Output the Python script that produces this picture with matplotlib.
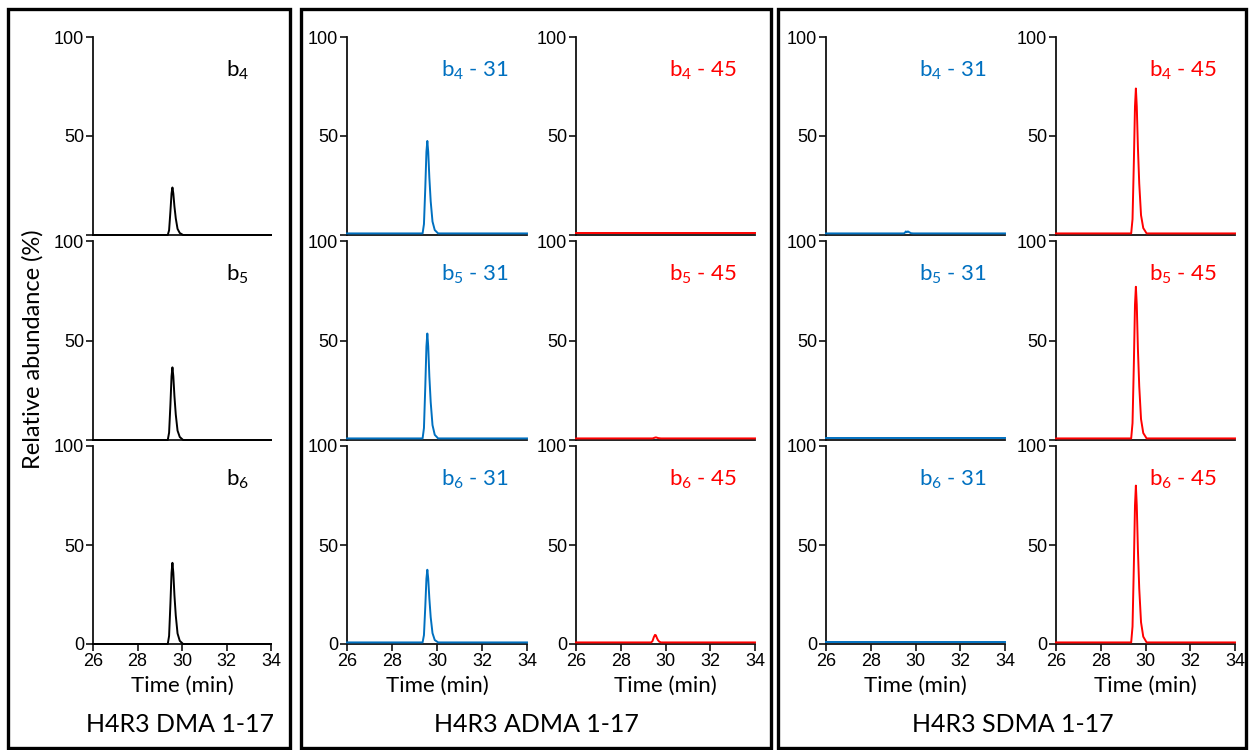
import matplotlib
matplotlib.use("Agg")
import matplotlib.pyplot as plt
from matplotlib.patches import Rectangle

plt.rcParams["mathtext.fontset"] = "custom"
plt.rcParams["mathtext.rm"] = "Lato"
plt.rcParams["mathtext.it"] = "Lato:italic"

# ---- data -------------------------------------------------------------
time_min = [26.0, 29.36, 29.42, 29.48, 29.53, 29.57, 29.61, 29.66, 29.72, 29.80, 29.90, 30.05, 34.0]

dma_b4 = [0, 0, 2.4, 12, 21, 24, 21, 14.4, 8.4, 3.1, 1.0, 0, 0]
dma_b5 = [0, 0, 3.7, 18, 32, 36.5, 32, 22, 12.8, 4.7, 1.5, 0, 0]
dma_b6 = [0, 0, 4.1, 20.5, 36, 41, 36, 24.6, 14.4, 5.3, 1.6, 0, 0]

adma_b4_31 = [0.8, 0.8, 5.5, 24, 42, 47.5, 42, 29, 17, 6.8, 2.5, 0.8, 0.8]
adma_b5_31 = [0.8, 0.8, 6.0, 27, 47, 53.5, 47, 32, 19, 7.5, 2.6, 0.8, 0.8]
adma_b6_31 = [0.8, 0.8, 4.5, 19, 33, 37.5, 33, 23, 13.5, 5.5, 2.0, 0.8, 0.8]
adma_b4_45 = [0.8, 0.8, 0.8, 0.8, 0.8, 0.8, 0.8, 0.8, 0.8, 0.8, 0.8, 0.8, 0.8]
adma_b5_45 = [0.8, 0.8, 0.8, 1.0, 1.2, 1.3, 1.2, 1.0, 0.9, 0.8, 0.8, 0.8, 0.8]
adma_b6_45 = [0.8, 0.8, 1.5, 3.5, 4.6, 4.4, 3.2, 2.0, 1.2, 0.8, 0.8, 0.8, 0.8]

sdma_b4_31 = [0.8, 0.8, 0.8, 0.8, 1.2, 1.8, 1.4, 1.8, 1.4, 0.9, 0.8, 0.8, 0.8]
sdma_b5_31 = [0.8, 0.8, 0.8, 0.8, 0.8, 0.8, 0.8, 0.8, 0.8, 0.8, 0.8, 0.8, 0.8]
sdma_b6_31 = [0.8, 0.8, 0.8, 0.8, 0.8, 0.8, 0.8, 0.8, 0.8, 0.8, 0.8, 0.8, 0.8]
sdma_b4_45 = [0.8, 0.8, 8.0, 37, 65, 74, 65, 44.5, 26, 10, 3.5, 0.8, 0.8]
sdma_b5_45 = [0.8, 0.8, 8.5, 38.5, 68, 77, 68, 46, 27, 10.5, 3.5, 0.8, 0.8]
sdma_b6_45 = [0.8, 0.8, 8.8, 40, 70, 80, 70, 48, 28, 11, 3.7, 0.8, 0.8]

ions = ["4", "5", "6"]
x_ticks = [26, 28, 30, 32, 34]
y_ticks = [0, 50, 100]
panel_titles = ["H4R3 DMA 1-17", "H4R3 ADMA 1-17", "H4R3 SDMA 1-17"]

BLUE = "#0070C0"
RED = "#FF0000"
BLACK = "#000000"

# columns: (traces per row, colour, label suffix)
columns = [
    ([dma_b4, dma_b5, dma_b6], BLACK, ""),
    ([adma_b4_31, adma_b5_31, adma_b6_31], BLUE, " - 31"),
    ([adma_b4_45, adma_b5_45, adma_b6_45], RED, " - 45"),
    ([sdma_b4_31, sdma_b5_31, sdma_b6_31], BLUE, " - 31"),
    ([sdma_b4_45, sdma_b5_45, sdma_b6_45], RED, " - 45"),
]

# ---- layout (pixels) --------------------------------------------------
W, H = 1249, 750
fig = plt.figure(figsize=(W / 100, H / 100), dpi=100)

col_x = [(93, 271), (347, 527), (576, 755), (826, 1005), (1056, 1235)]
row_y = [(37, 235), (241, 440), (446, 644)]

TICK_FONT = "Liberation Sans"
LABEL_FONT = "Lato"


def fig_rect(x0, x1, y0, y1):
    return [x0 / W, 1 - y1 / H, (x1 - x0) / W, (y1 - y0) / H]


for c, (traces, color, suffix) in enumerate(columns):
    x0, x1 = col_x[c]
    for r in range(3):
        y0, y1 = row_y[r]
        ax = fig.add_axes(fig_rect(x0, x1, y0, y1))
        ax.set_xlim(26, 34)
        ax.set_ylim(0, 100)
        ax.plot(time_min, traces[r], color=color, lw=1.4, solid_joinstyle="round", zorder=3, clip_on=False)
        for s in ("top", "right"):
            ax.spines[s].set_visible(False)
        for s in ("left", "bottom"):
            ax.spines[s].set_linewidth(1.3)
            ax.spines[s].set_color("#111111")
        ax.set_yticks(y_ticks)
        if r < 2:
            ax.set_yticklabels(["", "50", "100"])
            ax.set_xticks([])
        else:
            ax.set_yticklabels(["0", "50", "100"])
            ax.set_xticks(x_ticks)
            ax.set_xticklabels([str(v) for v in x_ticks])
            ax.set_xlabel("Time (min)", fontsize=16, family=LABEL_FONT, labelpad=4)
        ax.tick_params(axis="both", direction="out", length=5, width=1.2, pad=1.5,
                       labelsize=13, color="#111111")
        for lab in ax.get_xticklabels() + ax.get_yticklabels():
            lab.set_family(TICK_FONT)
        ax.patch.set_alpha(0)
        ax.text(0.52 if suffix else 0.75, 0.83, r"b$_{%s}$%s" % (ions[r], suffix),
                transform=ax.transAxes, color=color, fontsize=16,
                family=LABEL_FONT, ha="left", va="center")

# y-axis title
fig.text(33 / W, 1 - 349 / H, "Relative abundance (%)", rotation=90,
         ha="center", va="center", fontsize=17, family=LABEL_FONT)

# framed panels with titles underneath
panels = [(8, 290), (301, 771), (778, 1246)]
title_x = [180, 536, 1013]
for (px0, px1), tx, title in zip(panels, title_x, panel_titles):
    fig.patches.append(Rectangle((px0 / W, 1 - 748 / H), (px1 - px0) / W, (748 - 9) / H,
                                 transform=fig.transFigure, fill=False,
                                 edgecolor="black", linewidth=2.4))
    fig.text(tx / W, 1 - 725 / H, title, ha="center", va="center",
             fontsize=18, family=LABEL_FONT)

fig.savefig("out.png", dpi=100)
